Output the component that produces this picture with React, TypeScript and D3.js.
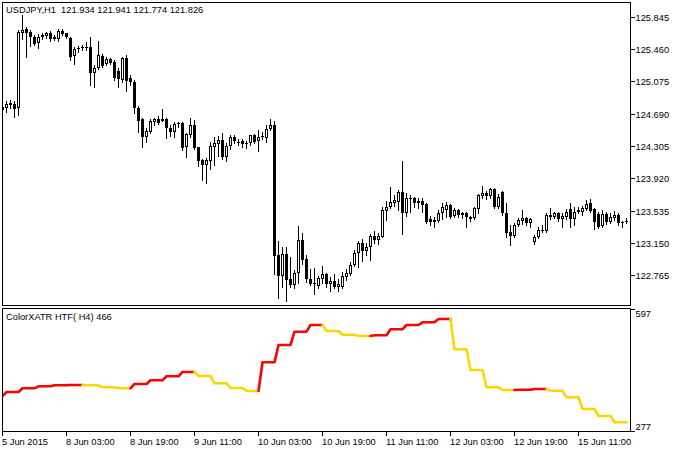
import React from 'react';
import * as d3 from 'd3';

const symbolTitle = 'USDJPY,H1  121.934 121.941 121.774 121.826';
const indicatorTitle = 'ColorXATR HTF( H4) 466';

const openP = [124.735,124.759,124.819,124.807,124.759,125.654,125.702,125.666,125.606,125.535,125.606,125.618,125.654,125.612,125.577,125.682,125.648,125.598,125.380,125.460,125.487,125.475,125.487,125.180,125.233,125.380,125.284,125.340,125.312,125.204,125.093,125.359,125.113,125.073,124.755,124.628,124.416,124.476,124.592,124.624,124.607,124.628,124.517,124.476,124.580,124.580,124.290,124.437,124.556,124.290,124.138,124.075,124.130,124.297,124.325,124.377,124.174,124.305,124.416,124.357,124.365,124.345,124.337,124.437,124.359,124.413,124.397,124.505,124.550,123.004,122.757,123.016,122.718,122.646,122.786,123.183,122.953,122.718,122.670,122.638,122.718,122.774,122.658,122.694,122.619,122.619,122.745,122.777,122.885,123.024,123.144,123.055,123.096,123.231,123.183,123.222,123.533,123.573,123.628,123.640,123.760,123.502,123.669,123.681,123.652,123.649,123.613,123.430,123.402,123.414,123.505,123.541,123.601,123.470,123.541,123.482,123.502,123.430,123.442,123.550,123.708,123.748,123.708,123.788,123.581,123.760,123.502,123.282,123.231,123.362,123.414,123.442,123.390,123.163,123.215,123.294,123.294,123.454,123.461,123.502,123.430,123.454,123.550,123.430,123.521,123.521,123.550,123.621,123.550,123.493,123.350,123.493,123.402,123.442,123.482,123.402,123.402];
const highP = [124.819,124.842,124.854,124.842,125.690,125.869,125.726,125.684,125.630,125.642,125.654,125.666,125.672,125.630,125.698,125.698,125.658,125.610,125.491,125.493,125.511,125.550,125.603,125.272,125.562,125.403,125.368,125.356,125.332,125.233,125.371,125.391,125.153,125.093,124.783,124.639,124.516,124.628,124.636,124.663,124.743,124.634,124.556,124.595,124.595,124.592,124.457,124.636,124.616,124.297,124.144,124.158,124.356,124.416,124.424,124.457,124.337,124.437,124.437,124.385,124.385,124.368,124.440,124.448,124.496,124.476,124.556,124.624,124.604,123.171,123.103,123.103,122.984,122.825,123.350,123.270,123.004,122.833,122.849,122.753,122.873,122.786,122.745,122.774,122.718,122.805,122.833,122.924,123.064,123.171,123.195,123.151,123.255,123.294,123.263,123.581,123.652,123.812,123.720,123.780,124.126,123.741,123.720,123.700,123.681,123.681,123.619,123.470,123.454,123.541,123.625,123.640,123.613,123.562,123.550,123.521,123.521,123.470,123.581,123.732,123.828,123.772,123.800,123.800,123.732,123.768,123.628,123.362,123.383,123.442,123.541,123.454,123.442,123.243,123.342,123.362,123.502,123.562,123.521,123.521,123.502,123.550,123.628,123.573,123.581,123.589,123.661,123.669,123.562,123.521,123.541,123.521,123.502,123.533,123.502,123.414,123.442];
const lowP = [124.699,124.711,124.759,124.651,124.675,125.582,125.368,125.499,125.511,125.475,125.588,125.594,125.553,125.571,125.562,125.630,125.591,125.332,125.284,125.431,125.451,125.451,125.033,125.006,125.224,125.248,125.272,125.284,125.093,125.006,125.073,124.965,125.033,124.696,124.476,124.297,124.357,124.464,124.556,124.568,124.604,124.397,124.424,124.409,124.528,124.257,124.170,124.416,124.266,124.066,123.899,123.867,124.027,124.078,124.186,124.150,124.130,124.266,124.345,124.317,124.297,124.278,124.317,124.345,124.249,124.385,124.357,124.496,122.777,122.494,122.619,122.459,122.619,122.607,122.666,122.897,122.685,122.646,122.539,122.607,122.666,122.626,122.578,122.607,122.578,122.607,122.706,122.765,122.873,122.864,122.936,123.004,122.944,123.144,123.135,123.215,123.422,123.562,123.589,123.541,123.255,123.470,123.521,123.573,123.562,123.521,123.382,123.362,123.335,123.402,123.434,123.461,123.442,123.454,123.454,123.442,123.335,123.414,123.430,123.509,123.681,123.669,123.681,123.562,123.562,123.482,123.222,123.123,123.215,123.350,123.374,123.362,123.342,123.135,123.203,123.282,123.282,123.430,123.442,123.414,123.342,123.430,123.335,123.362,123.502,123.482,123.541,123.521,123.311,123.323,123.342,123.374,123.382,123.422,123.362,123.335,123.382];
const closeP = [124.771,124.807,124.795,124.747,125.666,125.690,125.654,125.606,125.523,125.606,125.630,125.648,125.588,125.577,125.678,125.642,125.603,125.371,125.460,125.469,125.475,125.487,125.180,125.233,125.391,125.260,125.340,125.300,125.113,125.101,125.352,125.081,125.073,124.755,124.607,124.416,124.484,124.604,124.624,124.583,124.622,124.517,124.476,124.568,124.562,124.278,124.445,124.556,124.278,124.130,124.075,124.138,124.305,124.337,124.377,124.174,124.305,124.416,124.368,124.347,124.329,124.341,124.437,124.357,124.416,124.421,124.505,124.556,122.992,122.757,123.016,122.706,122.646,122.786,123.183,122.944,122.714,122.658,122.652,122.726,122.777,122.658,122.697,122.619,122.658,122.757,122.793,122.885,123.024,123.151,123.055,123.103,123.231,123.183,123.231,123.541,123.581,123.640,123.661,123.760,123.502,123.681,123.681,123.628,123.628,123.601,123.402,123.402,123.416,123.502,123.577,123.601,123.454,123.541,123.482,123.509,123.454,123.454,123.562,123.720,123.748,123.708,123.788,123.581,123.700,123.502,123.263,123.231,123.362,123.422,123.442,123.390,123.430,123.215,123.302,123.308,123.482,123.482,123.502,123.430,123.470,123.521,123.430,123.521,123.541,123.562,123.613,123.533,123.402,123.342,123.493,123.402,123.454,123.482,123.390,123.386,123.414];

const priceTicks = [125.845, 125.46, 125.075, 124.69, 124.305, 123.92, 123.535, 123.15, 122.765];

// ColorXATR HTF values, one per H4 block (first block has one H1 bar, the rest four)
const atrH4 = [368.8,379.3,389.0,394.2,397.1,397.7,396.9,391.6,389.0,400.3,410.0,420.5,431.8,421.3,402.1,389.8,381.9,457.2,502.6,537.5,555.0,539.3,529.6,526.2,528.0,543.8,555.0,562.1,570.8,491.3,437.0,391.6,384.5,385.2,387.2,382.7,365.4,334.7,316.3,299.8];
const atrScale = [277, 597];

const timeLabels = ['5 Jun 2015', '8 Jun 03:00', '8 Jun 19:00', '9 Jun 11:00', '10 Jun 03:00', '10 Jun 19:00', '11 Jun 11:00', '12 Jun 03:00', '12 Jun 19:00', '15 Jun 11:00'];
const timeLabelBars = [0, 16, 32, 48, 64, 80, 96, 112, 128, 144];

const FONT = "'Liberation Sans', Arial, sans-serif";
const FS = 9.3;
const UP = '#FF0000';
const DOWN = '#FFD700';

export default function App() {
  const n = openP.length;
  const x = d3.scaleLinear().domain([0, n - 1]).range([2.5, 2.5 + 4 * (n - 1)]);
  const yP = d3.scaleLinear().domain([122.401, 126.018]).range([305.5, 2.5]);
  const yA = d3.scaleLinear().domain(atrScale).range([431, 309]);

  const blockOf = (i: number) => (i === 0 ? 0 : Math.ceil(i / 4));
  const blockUp = (k: number) => k === 0 || atrH4[k] > atrH4[k - 1];

  const runs: { color: string; pts: [number, number][] }[] = [];
  for (let i = 1; i < n; i++) {
    const color = blockUp(blockOf(i)) ? UP : DOWN;
    const p0: [number, number] = [x(i - 1), yA(atrH4[blockOf(i - 1)])];
    const p1: [number, number] = [x(i), yA(atrH4[blockOf(i)])];
    const last = runs[runs.length - 1];
    if (last && last.color === color) last.pts.push(p1);
    else runs.push({ color, pts: [p0, p1] });
  }
  const line = d3.line<[number, number]>().x(d => d[0]).y(d => d[1]);

  const candles = d3.range(n).map(i => {
    const xc = x(i);
    const o = openP[i], c = closeP[i];
    const bull = c >= o;
    const top = Math.round(yP(Math.max(o, c)));
    const bot = Math.round(yP(Math.min(o, c)));
    const hi = Math.round(yP(highP[i]));
    const lo = Math.round(yP(lowP[i]));
    return (
      <g key={i}>
        <rect x={xc - 0.5} y={hi} width={1} height={Math.max(1, lo - hi + 1)} fill="#000" />
        {bot - top <= 1 ? (
          <rect x={xc - 1.5} y={top} width={3} height={Math.max(1, bot - top)} fill="#000" />
        ) : bull ? (
          <rect x={xc - 1} y={top + 0.5} width={2} height={bot - top - 1} fill="#fff" stroke="#000" strokeWidth={1} />
        ) : (
          <rect x={xc - 1.5} y={top} width={3} height={bot - top} fill="#000" />
        )}
      </g>
    );
  });

  return (
    <svg width={682} height={452} style={{ position: 'absolute', left: 0, top: 0, background: '#fff' }} fontFamily={FONT}>
      <rect x={0} y={0} width={682} height={452} fill="#fff" />
      <defs>
        <clipPath id="mainClip"><rect x={3} y={3} width={627} height={302} /></clipPath>
        <clipPath id="indClip"><rect x={3} y={309} width={627} height={122} /></clipPath>
      </defs>

      <g clipPath="url(#mainClip)" shapeRendering="crispEdges">{candles}</g>
      <rect x={2.5} y={2.5} width={628} height={303} fill="none" stroke="#000" strokeWidth={1} shapeRendering="crispEdges" />
      <text x={6} y={12.5} fontSize={FS} fill="#000" style={{ whiteSpace: 'pre' }}>{symbolTitle}</text>
      {priceTicks.map(t => {
        const yy = Math.round(yP(t)) + 0.5;
        return (
          <g key={t}>
            <line x1={630.5} x2={634.5} y1={yy} y2={yy} stroke="#000" strokeWidth={1} shapeRendering="crispEdges" />
            <text x={635.5} y={yy + 3} fontSize={FS} fill="#000">{t.toFixed(3)}</text>
          </g>
        );
      })}

      <g clipPath="url(#indClip)">
        {runs.map((r, j) => (
          <path key={j} d={line(r.pts) || ''} fill="none" stroke={r.color} strokeWidth={2.6} strokeLinejoin="round" strokeLinecap="round" />
        ))}
      </g>
      <rect x={2.5} y={308.5} width={628} height={123} fill="none" stroke="#000" strokeWidth={1} shapeRendering="crispEdges" />
      <text x={6} y={320} fontSize={FS} fill="#000">{indicatorTitle}</text>
      <line x1={630.5} x2={634.5} y1={Math.round(yA(atrScale[1])) + 0.5} y2={Math.round(yA(atrScale[1])) + 0.5} stroke="#000" shapeRendering="crispEdges" />
      <text x={635.5} y={yA(atrScale[1]) + 8} fontSize={FS} fill="#000">{atrScale[1]}</text>
      <line x1={630.5} x2={634.5} y1={431.5} y2={431.5} stroke="#000" shapeRendering="crispEdges" />
      <text x={635.5} y={yA(atrScale[0]) - 1.5} fontSize={FS} fill="#000">{atrScale[0]}</text>

      {timeLabelBars.map((b, j) => {
        const xx = x(b);
        return (
          <g key={b}>
            <line x1={xx} x2={xx} y1={431.5} y2={436} stroke="#000" shapeRendering="crispEdges" />
            <text x={xx - 0.5} y={445} fontSize={FS} fill="#000">{timeLabels[j]}</text>
          </g>
        );
      })}
    </svg>
  );
}
